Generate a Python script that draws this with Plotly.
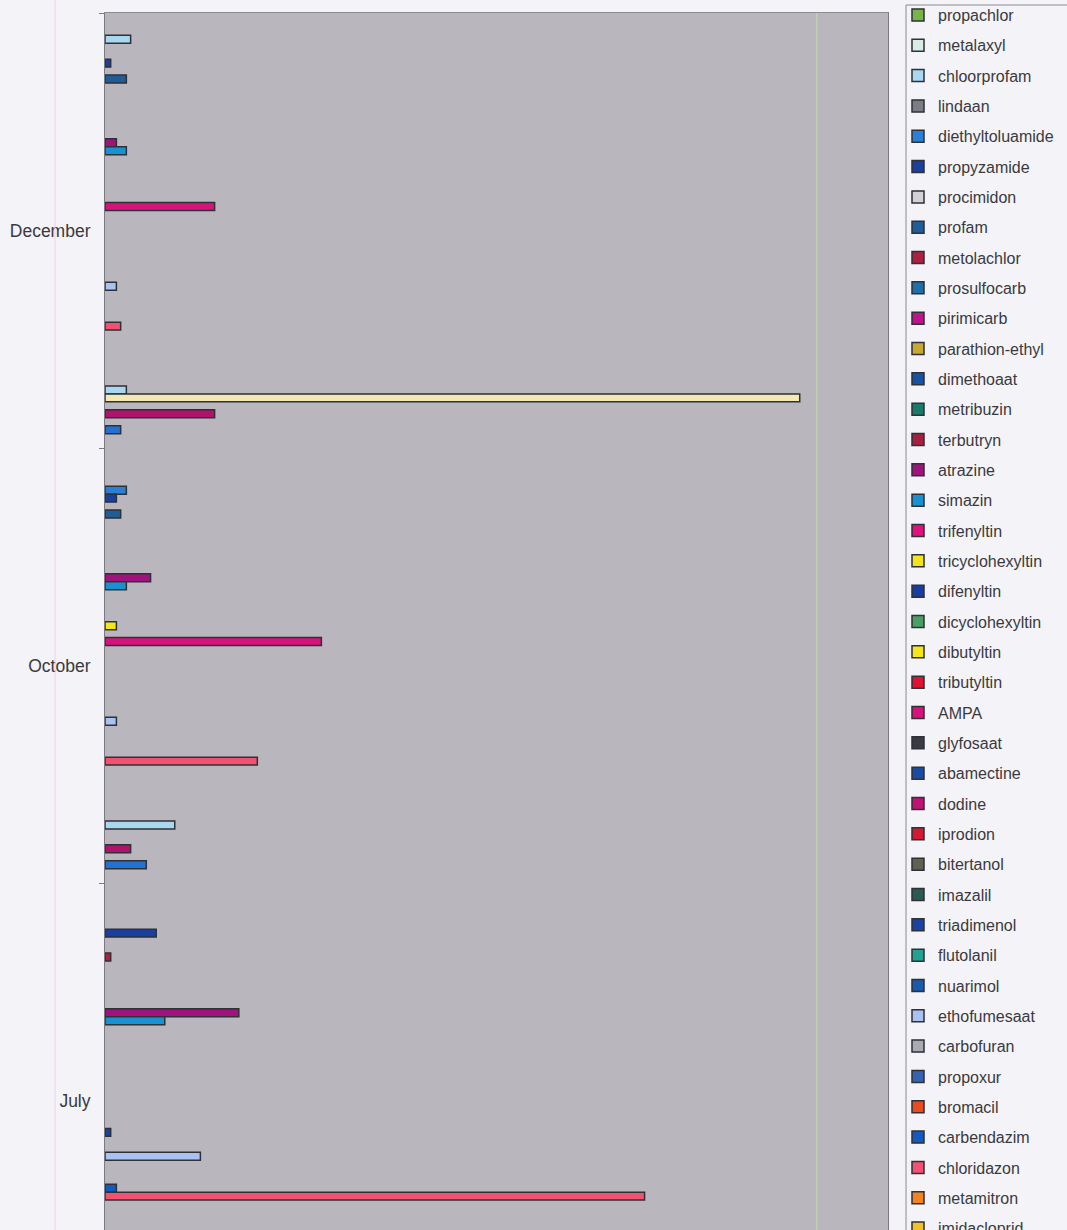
import plotly.graph_objects as go

# Sampling months (top to bottom)
months = ["December", "October", "July"]

# Compounds in legend order, with their fill colours
compounds = [
    "propachlor", "metalaxyl", "chloorprofam", "lindaan", "diethyltoluamide",
    "propyzamide", "procimidon", "profam", "metolachlor", "prosulfocarb",
    "pirimicarb", "parathion-ethyl", "dimethoaat", "metribuzin", "terbutryn",
    "atrazine", "simazin", "trifenyltin", "tricyclohexyltin", "difenyltin",
    "dicyclohexyltin", "dibutyltin", "tributyltin", "AMPA", "glyfosaat",
    "abamectine", "dodine", "iprodion", "bitertanol", "imazalil",
    "triadimenol", "flutolanil", "nuarimol", "ethofumesaat", "carbofuran",
    "propoxur", "bromacil", "carbendazim", "chloridazon", "metamitron",
    "imidacloprid", "isoproturon", "diuron", "linuron", "chloortoluron",
    "metobromuron", "MCPA", "mecoprop", "bentazon", "dichlobenil",
    "BAM", "desethylatrazine", "2,4-D",
]

colors = [
    "#78b44a", "#d6eee6", "#a9d7ef", "#7c7c86", "#2a80d6",
    "#1a3f9c", "#d2d2d6", "#1f5c98", "#b01e40", "#1f6ea8",
    "#c0128c", "#c6a832", "#1a52a2", "#1a7a6a", "#a82040",
    "#a0127c", "#1a92d2", "#e0127c", "#f2e41e", "#1a3c9e",
    "#4aa062", "#f4e61a", "#e01232", "#d8127c", "#3a3a42",
    "#1a4aa2", "#c01272", "#d21a32", "#626052", "#2c5a52",
    "#1a42a2", "#22a292", "#1a5aaa", "#aac2f2", "#aaaab2",
    "#3662b2", "#e84c22", "#125ac2", "#f25272", "#f28222",
    "#f2c222", "#6a8a3a", "#8a6aa2", "#3aa2a2", "#c28a5a",
    "#5a7ab2", "#a9d7ef", "#f4e9b4", "#92b2d2", "#b0126c",
    "#7a7a9a", "#2272d2", "#c2a2c2",
]

# Measured concentrations per compound: [December, October, July]
# (None = not detected / not reported)
values = {
    "chloorprofam":     [0.18, None, None],
    "diethyltoluamide": [None, 0.15, None],
    "propyzamide":      [0.04, 0.08, 0.36],
    "profam":           [0.15, 0.11, None],
    "metolachlor":      [None, None, 0.04],
    "atrazine":         [0.08, 0.32, 0.94],
    "simazin":          [0.15, 0.15, 0.42],
    "dibutyltin":       [None, 0.08, None],
    "AMPA":             [0.77, 1.52, None],
    "triadimenol":      [None, None, 0.04],
    "ethofumesaat":     [0.08, 0.08, 0.67],
    "carbendazim":      [None, None, 0.08],
    "chloridazon":      [0.11, 1.07, 3.79],
    "MCPA":             [0.15, 0.49, None],
    "mecoprop":         [4.88, None, None],
    "dichlobenil":      [0.77, 0.18, None],
    "desethylatrazine": [0.11, 0.29, None],
}

PAGE_BG = "#f3f3f8"
PLOT_BG = "#b9b6bd"
TEXT = "#3a3a3e"
BORDER = "#8a8a90"

fig = go.Figure()
for name, col in zip(compounds, colors):
    fig.add_trace(go.Bar(
        name=name,
        y=months,
        x=values.get(name, [None, None, None]),
        orientation="h",
        marker=dict(color=col, line=dict(color="#2e3136", width=1.5)),
        legendgroup=name,
    ))

# Plot area geometry (pixels)
W, H = 1067, 1230
M_L, M_T, M_R, M_B = 105, 13, W - 888, 0
BAND = 435.0
plot_w = W - M_L - M_R
plot_h = H - M_T - M_B
y_span = plot_h / BAND


def px_x(px):
    return (px - M_L) / plot_w


def px_y(py):
    return (H - M_B - py) / plot_h


LEG_FONT = 16
item_h = LEG_FONT * 1.3 + 3

fig.update_layout(
    width=W, height=H,
    margin=dict(l=M_L, r=M_R, t=M_T, b=M_B, autoexpand=False),
    paper_bgcolor=PAGE_BG,
    plot_bgcolor=PLOT_BG,
    barmode="group",
    bargap=0.029,
    bargroupgap=0,
    font=dict(family="Liberation Sans, Arial, sans-serif", color=TEXT, size=14),
    showlegend=True,
    legend=dict(
        x=px_x(898), xanchor="left",
        y=px_y(-2), yanchor="top",
        bgcolor="rgba(0,0,0,0)",
        borderwidth=0,
        font=dict(size=LEG_FONT, color=TEXT),
        traceorder="grouped",
        tracegroupgap=30.33 - item_h,
        maxheight=3000,
    ),
    xaxis=dict(
        range=[0, 5.5],
        showgrid=False, zeroline=False,
        showticklabels=False, ticks="",
        showline=True, linecolor=BORDER, linewidth=1, mirror=True,
    ),
    yaxis=dict(
        type="category",
        categoryorder="array", categoryarray=months,
        range=[-0.5 + y_span, -0.5],
        showgrid=False, zeroline=False,
        showline=True, linecolor="#7a7a80", linewidth=1, mirror=True,
        ticks="outside", tickson="boundaries", ticklen=5, tickcolor="#7a7a80",
        tickfont=dict(size=17.5, color=TEXT),
        ticklabelstandoff=10,
    ),
    shapes=[
        # legend frame, running past the page edge
        dict(type="rect", xref="paper", yref="paper",
             x0=px_x(906), x1=px_x(1090), y0=px_y(1260), y1=px_y(5),
             line=dict(color=BORDER, width=1), fillcolor=PAGE_BG,
             layer="below"),
        # faint vertical guide lines
        dict(type="line", xref="x", yref="paper", x0=5.0, x1=5.0, y0=0, y1=1,
             line=dict(color="rgba(200,230,170,0.8)", width=1), layer="below"),
        dict(type="line", xref="paper", yref="paper",
             x0=px_x(55), x1=px_x(55), y0=0, y1=px_y(0),
             line=dict(color="rgba(235,200,230,0.7)", width=1)),
    ],
)

fig.write_html("out.html")
